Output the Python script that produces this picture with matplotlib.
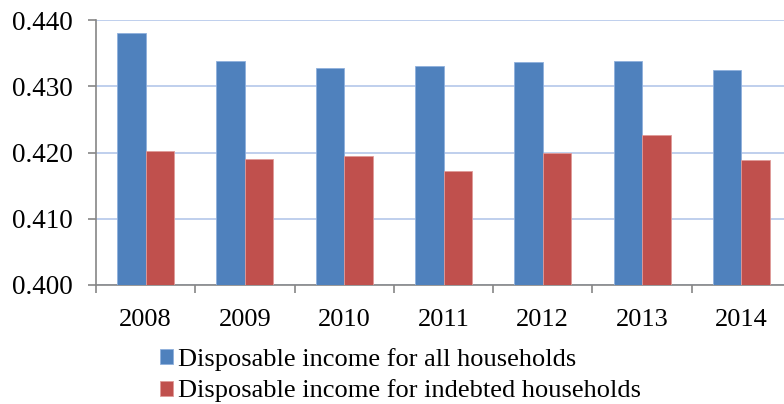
import numpy as np
import matplotlib.pyplot as plt

# values
years = ['2008', '2009', '2010', '2011', '2012', '2013', '2014']
all_households = [0.4380, 0.4338, 0.4328, 0.4331, 0.4337, 0.4338, 0.4324]
indebted_households = [0.4203, 0.4190, 0.4195, 0.4172, 0.4199, 0.4226, 0.4188]
y_ticks = [0.400, 0.410, 0.420, 0.430, 0.440]

plt.rcParams['font.family'] = ['Liberation Serif', 'DejaVu Serif']

fig = plt.figure(figsize=(7.84, 4.04), dpi=100)
ax = fig.add_axes([96 / 784, 1 - 285 / 404, 695 / 784, 265 / 404])

x = np.arange(len(years))
w = 0.287
ax.bar(x - w / 2, all_households, w, color='#4F81BD', edgecolor='#8FB0DC', linewidth=0.6,
       label='Disposable income for all households', zorder=3)
ax.bar(x + w / 2, indebted_households, w, color='#C0504D', edgecolor='#E09A98', linewidth=0.6,
       label='Disposable income for indebted households', zorder=3)

ax.set_ylim(0.400, 0.440)
ax.set_xlim(-0.5, len(years) - 0.5)
ax.set_yticks(y_ticks)
ax.set_yticklabels([f'{v:.3f}' for v in y_ticks], fontsize=19.5)
ax.yaxis.grid(True, color='#B4C7EA', linewidth=1.2, zorder=0)

# ticks between categories, labels at centres
ax.set_xticks(np.arange(len(years) + 1) - 0.5)
ax.set_xticklabels([])
ax.set_xticks(x, minor=True)
ax.set_xticklabels(years, minor=True, fontsize=19)
ax.tick_params(axis='x', which='minor', length=0, pad=17)
ax.tick_params(axis='x', which='major', length=6, width=1.2, color='#868686', direction='out')
ax.tick_params(axis='y', length=6, width=1.2, color='#868686', direction='out', pad=11)

for s in ['top', 'right']:
    ax.spines[s].set_visible(False)
for s in ['left', 'bottom']:
    ax.spines[s].set_color('#868686')
    ax.spines[s].set_linewidth(1.2)

fig.legend(loc='upper left', bbox_to_anchor=(160 / 784, 1 - 348 / 404), frameon=False,
           fontsize=19, handlelength=0.5, handleheight=0.5, handletextpad=0.2,
           labelspacing=0.32, borderpad=0, borderaxespad=0)

fig.savefig('out.png', dpi=100)
